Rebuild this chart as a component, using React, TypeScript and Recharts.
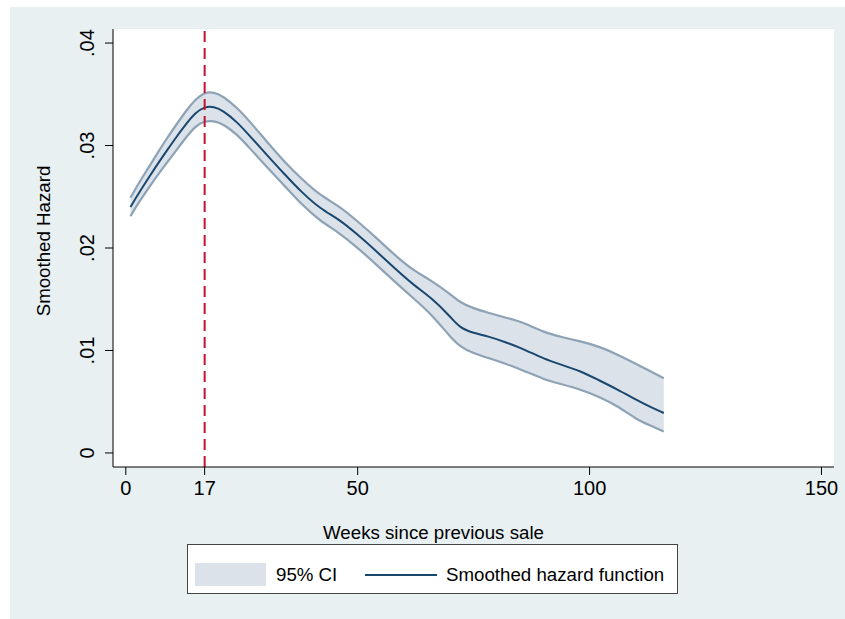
import { ComposedChart, Area, Line, XAxis, YAxis, CartesianGrid, ReferenceLine } from "recharts"

const weeks = [1, 3, 5, 7, 9, 11, 13, 15, 17, 19, 21, 24, 27, 30, 34, 38, 42, 46, 50, 54, 58, 62, 66, 70, 72, 75, 78, 82, 86, 90, 94, 98, 102, 106, 110, 113, 116]
const hazard = [0.024, 0.0255, 0.0269, 0.0283, 0.0296, 0.0309, 0.0321, 0.0332, 0.0338, 0.0338, 0.0334, 0.0323, 0.0308, 0.0293, 0.0273, 0.0254, 0.0238, 0.0228, 0.0213, 0.0197, 0.018, 0.0164, 0.0151, 0.0133, 0.0122, 0.0117, 0.0114, 0.0108, 0.0101, 0.0092, 0.0086, 0.008, 0.0071, 0.0062, 0.0052, 0.0045, 0.0039]
const ciLow = [0.0231, 0.0246, 0.0259, 0.0272, 0.0284, 0.0296, 0.0308, 0.0319, 0.0324, 0.0324, 0.0321, 0.0311, 0.0296, 0.0281, 0.0262, 0.0242, 0.0226, 0.0215, 0.02, 0.0184, 0.0167, 0.0151, 0.0135, 0.0113, 0.0104, 0.0097, 0.0093, 0.0087, 0.008, 0.0072, 0.0067, 0.0062, 0.0055, 0.0046, 0.0033, 0.0027, 0.0021]
const ciHigh = [0.0249, 0.0265, 0.0279, 0.0294, 0.0308, 0.0321, 0.0334, 0.0345, 0.0352, 0.0352, 0.0348, 0.0337, 0.0322, 0.0306, 0.0285, 0.0267, 0.0251, 0.0241, 0.0226, 0.021, 0.0193, 0.0178, 0.0168, 0.0155, 0.0147, 0.0141, 0.0137, 0.0132, 0.0127, 0.0118, 0.0113, 0.0109, 0.0104, 0.0096, 0.0087, 0.008, 0.0073]

const xTicks = [0, 17, 50, 100, 150]
const yTicks = [0, 0.01, 0.02, 0.03, 0.04]
const peakWeek = 17

const data = weeks.map((w, i) => ({
  week: w,
  hazard: hazard[i],
  low: ciLow[i],
  high: ciHigh[i],
  ci: [ciLow[i], ciHigh[i]],
}))

const FONT = '"Liberation Sans", Arial, sans-serif'
const BG = "#e8f0f2"
const BAND_FILL = "#dce2e9"
const BAND_EDGE = "#8ea2b6"
const NAVY = "#1a476f"

const fmtY = (v: number) => (v === 0 ? "0" : `.0${Math.round(v * 100)}`)

function YTick(props: any) {
  const { x, y, payload } = props
  const bx = x - 9
  return (
    <text x={bx} y={y} transform={`rotate(-90, ${bx}, ${y})`} textAnchor="middle" fontSize={20} fontFamily={FONT} fill="#000">
      {fmtY(payload.value)}
    </text>
  )
}

function XTitle(props: any) {
  const vb = props.viewBox
  return (
    <text x={vb.x + vb.width / 2 - 40} y={vb.y + 72} textAnchor="middle" fontSize={18.7} fontFamily={FONT} fill="#000">
      Weeks since previous sale
    </text>
  )
}

function YTitle(props: any) {
  const vb = props.viewBox
  const cx = 40
  const cy = vb.y + vb.height / 2 - 7
  return (
    <text x={cx} y={cy} transform={`rotate(-90, ${cx}, ${cy})`} textAnchor="middle" fontSize={18.7} fontFamily={FONT} fill="#000">
      Smoothed Hazard
    </text>
  )
}

export default function App() {
  return (
    <div style={{ position: "absolute", left: 0, top: 0, width: 845, height: 619, background: "#fff", fontFamily: FONT }}>
      <div style={{ position: "absolute", left: 10, top: 7, width: 835, height: 612, background: BG }}>
        <ComposedChart width={835} height={612} data={data} margin={{ top: 22, right: 11, left: 0, bottom: 92 }}>
          <rect x={103} y={22} width={721} height={438} fill="#fff" />
          <CartesianGrid horizontal vertical={false} stroke="#e6eef1" strokeWidth={2} fill="#fff" />
          <XAxis
            dataKey="week"
            type="number"
            domain={[-2.76, 152.7]}
            ticks={xTicks}
            allowDataOverflow
            height={60}
            tickSize={8}
            tickMargin={6}
            stroke="#000"
            tick={{ fontSize: 20, fontFamily: FONT, fill: "#000" }}
            label={<XTitle />}
          />
          <YAxis
            type="number"
            domain={[-0.00137, 0.04137]}
            ticks={yTicks}
            allowDataOverflow
            width={103}
            tickSize={8}
            stroke="#000"
            tick={<YTick />}
            label={<YTitle />}
          />
          <Area
            dataKey="ci"
            type="basis"
            fill={BAND_FILL}
            fillOpacity={1}
            stroke="none"
            isAnimationActive={false}
          />
          <Line dataKey="high" type="basis" stroke={BAND_EDGE} strokeWidth={2.2} dot={false} isAnimationActive={false} />
          <Line dataKey="low" type="basis" stroke={BAND_EDGE} strokeWidth={2.2} dot={false} isAnimationActive={false} />
          <Line dataKey="hazard" type="basis" stroke={NAVY} strokeWidth={2} dot={false} isAnimationActive={false} />
          <ReferenceLine x={peakWeek} stroke="#c8102e" strokeWidth={2} strokeDasharray="11 6" />
        </ComposedChart>
        <div
          style={{
            position: "absolute",
            left: 177,
            top: 537,
            width: 489,
            height: 48,
            background: "#fff",
            border: "1px solid #444",
            fontSize: 18.7,
            color: "#000",
          }}
        >
          <div style={{ position: "absolute", left: 7, top: 18, width: 71, height: 23, background: BAND_FILL }} />
          <div style={{ position: "absolute", left: 88, top: 18, lineHeight: "24px" }}>95% CI</div>
          <div style={{ position: "absolute", left: 177, top: 29, width: 72, height: 2, background: NAVY }} />
          <div style={{ position: "absolute", left: 258, top: 18, lineHeight: "24px" }}>Smoothed hazard function</div>
        </div>
      </div>
    </div>
  )
}
